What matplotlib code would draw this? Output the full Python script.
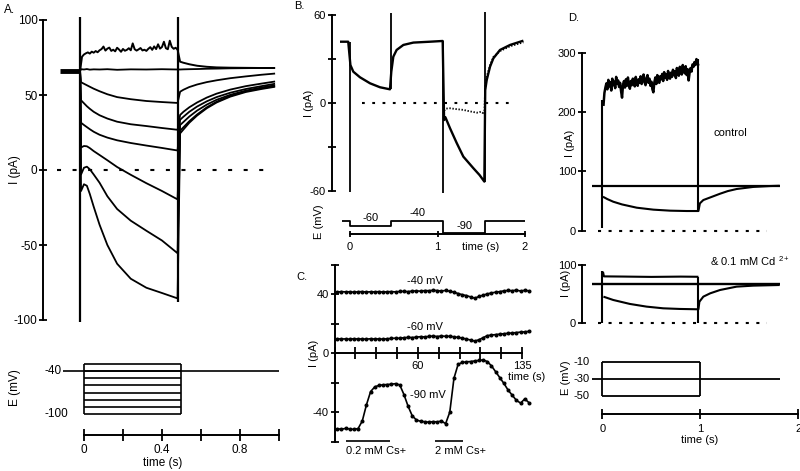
import matplotlib
matplotlib.use('Agg')
import matplotlib.pyplot as plt
import numpy as np

plt.rcParams['font.family'] = ['Liberation Sans', 'DejaVu Sans']
plt.rcParams['font.size'] = 8
plt.rcParams['mathtext.default'] = 'regular'
plt.rcParams['lines.scale_dashes'] = False
plt.rcParams['lines.solid_capstyle'] = 'butt'

W, H = 800, 471

# ---------------------------------------------------------------- panel A data
# currents (pA) during 0.5 s steps from -40 mV; time in s from step onset
a_volts = [-30, -40, -50, -60, -70, -80, -90, -100]
a_hold_i = 66
a_pre_t = -0.103
a_step_t = [0.005, 0.02, 0.035, 0.05, 0.07, 0.1, 0.14, 0.19, 0.26, 0.34, 0.42, 0.5]
a_step_i = [
    [67.2, 67.0, 67.3, 66.9, 67.1, 67.0, 67.2, 66.8, 67.1, 67.0, 67.2, 67.0],        # -40
    [58.5, 57.5, 56.5, 55.5, 54.2, 52.5, 50.5, 48.6, 47.2, 46.0, 45.3, 44.7],        # -50
    [46.5, 44.5, 42.5, 40.8, 38.8, 36.5, 34.3, 32.2, 30.5, 29.3, 28.0, 26.8],        # -60
    [31.5, 30.0, 28.6, 27.2, 25.5, 23.5, 21.6, 19.8, 18.0, 16.3, 14.7, 13.0],        # -70
    [15.0, 16.0, 15.8, 14.6, 12.6, 10.0, 6.5, 2.0, -3.2, -8.8, -14.0, -19.6],        # -80
    [-3.0, 1.5, 2.2, 0.5, -3.0, -8.5, -17.5, -26.0, -33.8, -40.5, -47.0, -55.5],     # -90
    [-14.0, -9.5, -10.5, -16.0, -24.5, -36.5, -50.0, -62.5, -72.5, -78.5, -82.0, -85.6],  # -100
]
# the -30 mV trace is noisy, sampled every 10 ms
a_noisy_i = [75.5, 77.0, 77.8, 78.4, 77.6, 78.9, 78.2, 79.3, 78.5, 79.8,
             80.6, 82.3, 79.6, 80.9, 81.6, 79.4, 80.2, 79.1, 81.5, 80.3,
             78.8, 80.7, 79.5, 80.1, 81.2, 79.8, 84.4, 80.5, 79.6, 80.4,
             81.3, 79.7, 80.2, 79.4, 80.8, 81.9, 80.1, 82.4, 80.6, 83.8,
             80.9, 82.0, 85.5, 81.2, 80.5, 86.2, 82.1, 80.8, 81.5, 80.2]
a_noisy_t = np.arange(1, len(a_noisy_i) + 1) * 0.01
a_tail_t = [0.513, 0.53, 0.56, 0.6, 0.65, 0.7, 0.77, 0.85, 0.93, 1.0]
a_tail_i = [
    [72.2, 71.5, 70.5, 69.5, 68.8, 68.4, 68.2, 68.1, 68.0, 68.0],   # -30
    [67.0, 67.1, 67.2, 67.3, 67.5, 67.6, 67.8, 67.9, 68.0, 68.0],   # -40
    [52.2, 53.5, 55.3, 57.0, 58.6, 59.8, 61.2, 62.4, 63.5, 64.3],   # -50
    [36.7, 38.8, 41.8, 45.0, 48.3, 50.9, 53.6, 55.9, 57.6, 59.0],   # -60
    [33.5, 35.5, 38.8, 42.3, 45.8, 48.6, 51.5, 54.0, 55.9, 57.5],   # -70
    [30.0, 32.0, 35.6, 39.6, 43.6, 46.8, 50.1, 52.9, 55.0, 56.5],   # -80
    [26.2, 28.5, 32.5, 37.0, 41.8, 45.5, 49.4, 52.5, 54.5, 56.0],   # -90
    [24.4, 27.0, 31.5, 36.3, 41.2, 45.0, 48.9, 52.0, 54.0, 55.5],   # -100
]
a_cap_t = [0.0, 0.5]
a_cap_lo = [-101, -88]
a_cap_hi = [102, 102]
a_hold_v = -40
a_step_dur = 0.5
a_prot_span = [-0.108, 1.0]

# ---------------------------------------------------------------- panel B data
b_ctrl_t = [-0.114, -0.02, 0.005, 0.038, 0.114, 0.229, 0.343, 0.457, 0.472, 0.495,
            0.533, 0.61, 0.724, 0.914, 1.059, 1.075, 1.09, 1.143, 1.219, 1.295,
            1.41, 1.48, 1.535, 1.545, 1.562, 1.60, 1.638, 1.714, 1.829, 1.981]
b_ctrl_i = [41.9, 41.9, 26.0, 21.5, 17.7, 13.6, 10.9, 9.5, 21.5, 31.7,
            36.3, 39.7, 41.3, 41.9, 42.4, -11.4, -9.5, -17.0, -27.0, -36.3,
            -44.2, -48.8, -53.3, 9.0, 15.8, 24.9, 30.6, 36.3, 39.7, 42.6]
b_cs_t = [1.075, 1.10, 1.143, 1.219, 1.295, 1.37, 1.45, 1.50, 1.535,
          1.545, 1.562, 1.60, 1.638, 1.714, 1.829, 1.981]
b_cs_i = [-5.0, -3.6, -3.4, -4.0, -4.5, -5.5, -6.4, -5.7, -7.5,
          11.5, 18.0, 26.0, 31.5, 35.5, 38.8, 41.5]
b_cap_t = [0.0, 0.469, 1.066, 1.543]
b_cap_lo = [-60.5, 9.5, -60.8, -53.3]
b_cap_hi = [41.9, 61.2, 42.4, 61.9]
b_prot_t = [-0.095, 0.0, 0.469, 1.066, 1.543, 2.0]
b_prot_e = [-40, -60, -40, -90, -40]
b_prot_lbl = ['-60', '-40', '-90']

# ---------------------------------------------------------------- panel C data
c_t = np.arange(2, 141, 3)  # sample times (s)
c_i40 = [41.6, 41.9, 41.7, 41.8, 41.5, 41.8, 41.9, 41.6, 41.8, 41.7, 41.9, 41.6,
         41.8, 41.9, 41.7, 42.0, 42.1, 41.9, 42.3, 42.4, 42.2, 42.6, 42.5, 42.8,
         42.6, 42.3, 42.7, 42.2, 41.5, 40.6, 39.8, 39.2, 38.3, 37.4, 38.6, 39.5,
         40.3, 41.0, 41.5, 41.9, 42.4, 42.7, 42.5, 42.9, 42.3, 42.8, 42.4]
c_i60 = [9.9, 9.7, 9.8, 9.6, 9.9, 9.7, 9.8, 9.6, 9.9, 9.7, 9.8, 9.6,
         9.9, 10.1, 10.3, 10.2, 10.6, 10.8, 10.7, 11.0, 11.3, 11.1, 11.5, 11.7,
         11.4, 11.8, 11.5, 11.6, 11.2, 10.8, 10.3, 9.7, 9.0, 8.3, 9.2, 10.6,
         12.0, 12.4, 12.7, 13.0, 13.3, 13.6, 13.8, 14.1, 14.4, 14.6, 14.9]
c_i90 = [-51.2, -51.6, -51.0, -51.4, -51.7, -51.1, -46.0, -35.0, -26.0, -22.8, -21.8, -21.4,
         -21.2, -21.0, -20.6, -21.5, -28.0, -36.0, -42.5, -45.3, -46.2, -46.5, -46.8, -46.4,
         -46.6, -46.0, -47.8, -40.0, -17.0, -7.5, -6.2, -5.8, -5.6, -5.2, -4.8, -4.5,
         -5.6, -8.5, -12.5, -16.5, -20.5, -25.0, -28.5, -32.0, -33.8, -31.0, -33.5]
c_names = ['-40 mV', '-60 mV', '-90 mV']
c_bar_t0 = [8.4, 72.0]
c_bar_t1 = [39.6, 92.2]
c_bar_names = ['0.2 mM Cs+', '2 mM Cs+']

# ---------------------------------------------------------------- panel D data
d_span = [-0.11, 1.81]
d_step_end = 0.98
d_hold_i = 75
d_noisy_i = [210, 232, 241, 248, 238, 254, 243, 250, 236, 256,
             245, 251, 240, 259, 247, 253, 242, 249, 235, 224,
             246, 252, 241, 255, 244, 258, 246, 239, 252, 245,
             256, 248, 243, 259, 250, 244, 255, 249, 260, 247,
             254, 263, 250, 245, 257, 262, 249, 256, 244, 251,
             238, 233, 250, 258, 247, 262, 254, 249, 260, 255,
             264, 252, 267, 258, 263, 254, 269, 260, 256, 266,
             259, 271, 262, 268, 257, 274, 265, 261, 276, 268,
             263, 279, 270, 265, 277, 262, 272, 253, 266, 274,
             268, 280, 276, 284, 279, 289, 283, 278]
d_noisy_t = np.arange(1, len(d_noisy_i) + 1) * 0.01
d_low_t = [0.005, 0.05, 0.11, 0.2, 0.35, 0.52, 0.69, 0.86, 0.98,
           0.995, 1.03, 1.12, 1.2, 1.28, 1.37, 1.54, 1.71, 1.81]
d_low_i = [57, 53, 48.6, 44, 38.5, 35.2, 33.5, 32.9, 32.9,
           45.8, 51.4, 57, 62, 66.5, 70, 73.5, 75, 75.5]
d_cap_t = [0.0, 0.98]
d_cap_lo = [3.5, 32.9]
d_cap_hi = [220, 289]

d2_hold_i = 67
d2_up_t = [0.005, 0.015, 0.2, 0.5, 0.8, 0.98]
d2_up_i = [88.6, 80.5, 80.2, 79.6, 80.1, 79.8]
d2_low_t = [0.01, 0.11, 0.28, 0.45, 0.62, 0.79, 0.98,
            0.99, 1.03, 1.1, 1.2, 1.37, 1.54, 1.81]
d2_low_i = [45.7, 40, 33.2, 28.6, 25.7, 24.6, 24,
            37, 45.7, 51.4, 57.1, 62.9, 64.6, 65.7]
d2_cap_t = [0.0, 0.98]
d2_cap_lo = [0, 0]
d2_cap_hi = [89, 80]

d_volts = [-10, -30, -50]
d_hold_v = -30
d_step_dur = 1.0

# ---------------------------------------------------------------- helpers
fig = plt.figure(figsize=(W / 100, H / 100), dpi=100)
K = 'black'


def frame(l, t, r, b, xlim, ylim):
    ax = fig.add_axes([l / W, 1 - b / H, (r - l) / W, (b - t) / H])
    for s in ax.spines.values():
        s.set_visible(False)
        s.set_linewidth(1.4)
    ax.set_xticks([])
    ax.set_yticks([])
    ax.patch.set_visible(False)
    ax.set_xlim(*xlim)
    ax.set_ylim(*ylim)
    return ax


def label(x, y, s, **kw):
    kw.setdefault('ha', 'center')
    kw.setdefault('va', 'center')
    fig.text(x / W, 1 - y / H, s, **kw)


def yaxis(ax, lo, hi, ticks, labels, length=6, size=8):
    sp = ax.spines['left']
    sp.set_visible(True)
    sp.set_bounds(lo, hi)
    ax.set_yticks(ticks, labels)
    ax.tick_params(axis='y', direction='inout', length=length, width=1.3, pad=1, labelsize=size)


def taxis(ax, at, lo, hi, ticks, labels, length=6, pad=2, size=8):
    sp = ax.spines['bottom']
    sp.set_visible(True)
    sp.set_position(('data', at))
    sp.set_bounds(lo, hi)
    ax.set_xticks(ticks, labels)
    ax.tick_params(axis='x', direction='inout', length=length, width=1.3, pad=pad, labelsize=size)


# ---------------------------------------------------------------- panel A
ax = frame(43, 15.5, 279, 324.5, (-0.19, 1.02), (-103, 103))
yaxis(ax, -100, 100, [-100, -50, 0, 50, 100], ['-100', '-50', '0', '50', '100'], size=8.5)
ax.plot([-0.118, 0.985], [0, 0], color=K, lw=1.5, dashes=(2.9, 8.3))
ax.plot([a_pre_t, 0], [a_hold_i, a_hold_i], color=K, lw=3.5)
for row, tail in zip(a_step_i, a_tail_i[1:]):
    ax.plot([0] + a_step_t + a_tail_t, [a_hold_i] + row + tail, color=K, lw=1.3)
ax.plot(np.concatenate([[0], a_noisy_t, a_tail_t]),
        np.concatenate([[a_hold_i], a_noisy_i, a_tail_i[0]]), color=K, lw=1.4)
ax.vlines(a_cap_t, a_cap_lo, a_cap_hi, color=K, lw=1.6)

ax = frame(43, 356.7, 279, 439.1, (-0.21, 1.0), (-135, -20))
ax.plot(a_prot_span, [a_hold_v, a_hold_v], color=K, lw=1.2)
for v in a_volts:
    ax.plot([0, a_step_dur], [v, v], color=K, lw=1.2)
ax.vlines([0, a_step_dur], min(a_volts), max(a_volts), color=K, lw=1.2)
taxis(ax, -129, 0, 1.0, [0, 0.2, 0.4, 0.6, 0.8, 1.0], ['0', '', '0.4', '', '0.8', ''],
      length=9, pad=2, size=8.5)
for v in (-40, -100):
    ax.text(-0.2, v, str(v), ha='left', va='center', fontsize=8.5)

label(4, 10, 'A.', ha='left', fontsize=8.5)
label(15, 170, 'I (pA)', rotation=90, fontsize=8.5)
label(15, 388, 'E (mV)', rotation=90, fontsize=8.5)
label(163, 463, 'time (s)', fontsize=8.5)

# ---------------------------------------------------------------- panel B
ax = frame(331.6, 10.7, 530.3, 194.4, (-0.21, 2.06), (-62, 63))
yaxis(ax, -60, 60, [-60, -30, 0, 30, 60], ['-60', '', '0', '', '60'])
ax.plot([0.137, 1.886], [0, 0], color=K, lw=1.5, dashes=(2.0, 5.4))
ax.plot(b_ctrl_t, b_ctrl_i, color=K, lw=1.7)
ax.plot(b_cs_t, b_cs_i, color=K, lw=1.3, dashes=(1.0, 1.2))
ax.vlines(b_cap_t, b_cap_lo, b_cap_hi, color=K, lw=1.3)

ax = frame(331.6, 218.2, 530.3, 235.7, (-0.21, 2.06), (-100, -30))
ax.step(b_prot_t, b_prot_e + [b_prot_e[-1]], where='post', color=K, lw=1.3)
taxis(ax, -93.2, 0, 2, [0, 1, 2], ['0', '1', '2'], length=5, pad=3.5)
for t0, t1, v, s in zip(b_prot_t[1:-1], b_prot_t[2:], b_prot_e[1:], b_prot_lbl):
    ax.annotate(s, ((t0 + t1) / 2, v), xytext=(0, 5.5), textcoords='offset points',
                ha='center', va='center')
label(294, 6, 'B.', ha='left')
label(309, 103, 'I (pA)', rotation=90)
label(319, 222, 'E (mV)', rotation=90)
label(481, 247, 'time (s)')

# ---------------------------------------------------------------- panel C
ax = frame(334.5, 263.5, 534.5, 443.1, (0, 144), (-61, 61))
yaxis(ax, -60, 60, [-60, -40, -20, 0, 20, 40, 60], ['', '-40', '', '0', '', '40', ''])
ticks = [0, 15, 30, 45, 60, 75, 90, 105, 120, 135]
taxis(ax, 0, 0, 135, ticks, ['60' if t == 60 else '135' if t == 135 else '' for t in ticks],
      length=8, pad=1.5)
for series, name, lx, ly in zip([c_i40, c_i60, c_i90], c_names, [65, 65, 67], [49.3, 17.9, -28.3]):
    ax.plot(c_t, series, color=K, lw=1.2, marker='o', ms=1.9)
    ax.text(lx, ly, name, ha='center', va='center')
for t0, t1, name in zip(c_bar_t0, c_bar_t1, c_bar_names):
    ax.plot([t0, t1], [-59.5, -59.5], color=K, lw=1.2, clip_on=False)
    ax.annotate(name, (t0, -59.5), xytext=(0, -7), textcoords='offset points',
                ha='left', va='center')
label(296, 277, 'C.', ha='left')
label(314, 353, 'I (pA)', rotation=90)
label(527, 377, 'time (s)')

# ---------------------------------------------------------------- panel D
dx = (-0.212, 2.0)
ax = frame(581.7, 49.6, 798.3, 233.5, dx, (-5, 305))
yaxis(ax, 0, 300, [0, 100, 200, 300], ['0', '100', '200', '300'])
ax.plot([-0.046, 1.68], [0, 0], color=K, lw=1.5, dashes=(2.2, 5.4))
ax.plot(d_span, [d_hold_i, d_hold_i], color=K, lw=1.6)
ax.plot(d_noisy_t, d_noisy_i, color=K, lw=1.8)
ax.plot(d_low_t, d_low_i, color=K, lw=1.5)
ax.vlines(d_cap_t, d_cap_lo, d_cap_hi, color=K, lw=1.5)
ax.text(1.13, 165, 'control', ha='left', va='center')

ax = frame(581.7, 262.1, 798.3, 326.2, dx, (-5, 105))
yaxis(ax, 0, 100, [0, 100], ['0', '100'])
ax.plot([-0.046, 1.68], [0, 0], color=K, lw=1.5, dashes=(2.2, 5.4))
ax.plot(d_span, [d2_hold_i, d2_hold_i], color=K, lw=1.7)
ax.plot(d2_up_t, d2_up_i, color=K, lw=1.5)
ax.plot(d2_low_t, d2_low_i, color=K, lw=1.5)
ax.vlines(d2_cap_t, d2_cap_lo, d2_cap_hi, color=K, lw=1.5)
ax.text(1.1, 106, '& 0.1 mM Cd $^{2+}$', ha='left', va='center')

ax = frame(581.7, 358.05, 798.3, 417.55, dx, (-75, -5))
ax.plot(d_span, [d_hold_v, d_hold_v], color=K, lw=1.3)
for v in (min(d_volts), max(d_volts)):
    ax.plot([0, d_step_dur], [v, v], color=K, lw=1.3)
ax.vlines([0, d_step_dur], min(d_volts), max(d_volts), color=K, lw=1.3)
taxis(ax, -70.8, 0, 2, [0, 1, 2], ['0', '1', '2'], length=7, pad=3.5)
for v in d_volts:
    ax.text(-0.128, v, str(v), ha='right', va='center')
label(568, 18, 'D.', ha='left')
label(570, 143, 'I (pA)', rotation=90)
label(566, 283, 'I (pA)', rotation=90)
label(566, 378, 'E (mV)', rotation=90)
label(700, 440, 'time (s)')

fig.savefig('out.png', dpi=100)
